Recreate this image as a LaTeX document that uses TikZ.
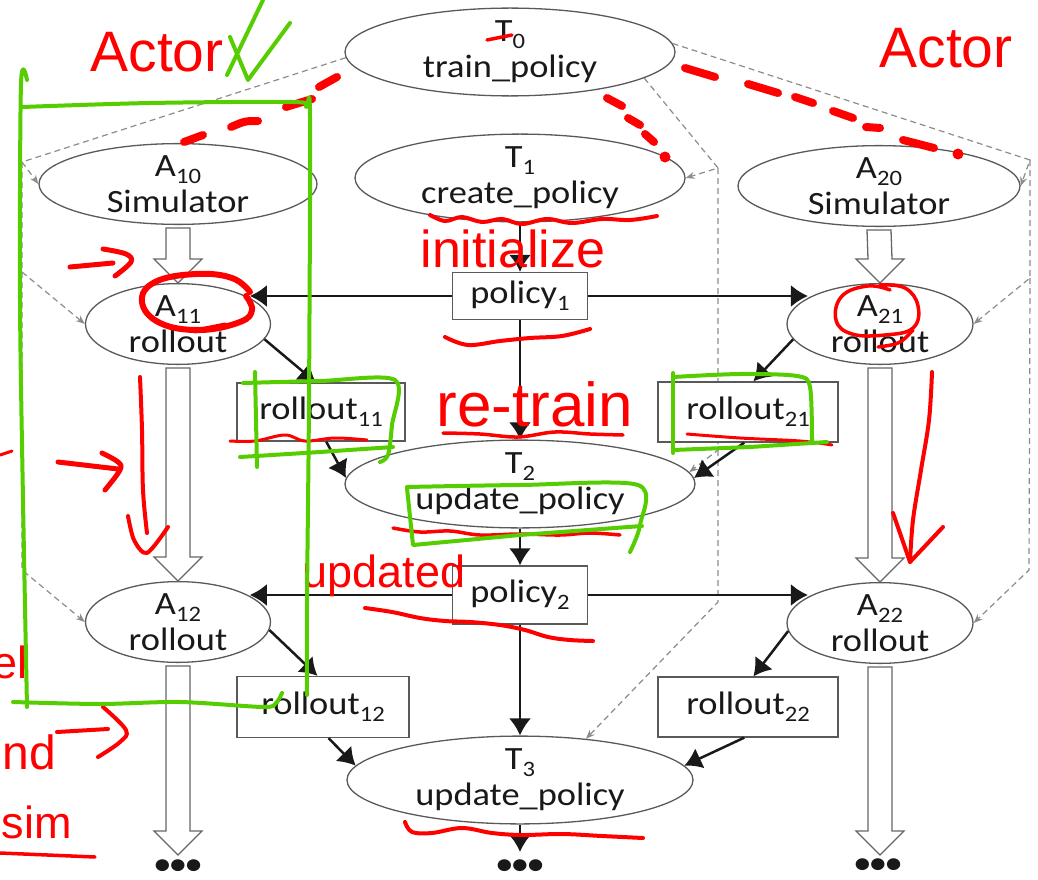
\documentclass[tikz,border=0pt]{standalone}
\usepackage{fontspec}
\setmainfont{Carlito}[FakeStretch=1.12]
\newfontfamily\handfont{Liberation Sans}
\usetikzlibrary{shapes.geometric,arrows.meta,calc,backgrounds}

% lowered index after a task or object name
\newcommand{\sbs}[1]{\raisebox{-7pt}{\fontsize{22}{22}\selectfont #1}}
% wide hollow arrow from one anchor straight down to another
\newcommand{\hollowarrow}[2]{%
  \draw[hollow] ($(#1)+(-12,3)$) -- ($(#2)+(-12,-24)$) -- ($(#2)+(-24,-24)$) -- (#2)
    -- ($(#2)+(24,-24)$) -- ($(#2)+(12,-24)$) -- ($(#1)+(12,3)$) -- cycle;}

\definecolor{inkgreen}{RGB}{85,205,0}
\definecolor{inkred}{RGB}{255,0,0}

\begin{document}
\begin{tikzpicture}[x=1pt,y=-1pt,
  every node/.style={font=\fontsize{32.5}{36}\selectfont, text=black!90},
  task/.style={ellipse, draw=black!65, line width=1.3pt, inner sep=0pt, align=center, fill=white},
  obj/.style={rectangle, draw=black!65, line width=1.3pt, inner sep=0pt, fill=white},
  flow/.style={line width=2.5pt, black!90, -{Latex[length=17pt,width=22pt]}},
  dep/.style={black!45, line width=1.2pt, dash pattern=on 6pt off 4pt, -{Stealth[length=9pt,width=7pt]}},
  hollow/.style={draw=black!60, line width=1.3pt, fill=white, line join=miter},
  dotrow/.style={anchor=north, inner sep=0pt, font=\bfseries\fontsize{28}{28}\selectfont},
  redtext/.style={text=inkred, inner sep=0pt, font=\handfont\fontsize{#1}{#1}\selectfont},
  redink/.style={draw=inkred, line cap=round, line join=round},
  greenink/.style={draw=inkgreen, line width=4pt, line cap=round, line join=round}
]
\useasboundingbox (0,0) rectangle (1038,880);

% ---------- tasks, actors and objects ----------
\node[task, minimum width=330pt, minimum height=85pt] (T0) at (510,52) {T\sbs{0}\\train\_policy};
\node[task, minimum width=330pt, minimum height=80pt] (T1) at (520,178) {T\sbs{1}\\create\_policy};
\node[task, minimum width=278pt, minimum height=72pt] (A10) at (178,184) {A\sbs{10}\\Simulator};
\node[task, minimum width=282pt, minimum height=72pt] (A20) at (879,186) {A\sbs{20}\\Simulator};
\node[obj, minimum width=135pt, minimum height=47pt] (P1) at (520,296) {policy\sbs{1}};
\node[task, minimum width=185pt, minimum height=75pt] (A11) at (178,324) {A\sbs{11}\\rollout};
\node[task, minimum width=186pt, minimum height=75pt] (A21) at (880,324) {A\sbs{21}\\rollout};
\node[obj, minimum width=168pt, minimum height=58pt] (R11) at (321,412) {rollout\sbs{11}};
\node[obj, minimum width=180pt, minimum height=60pt] (R21) at (748,412) {rollout\sbs{21}};
\node[task, minimum width=350pt, minimum height=86pt] (T2) at (520,484) {T\sbs{2}\\update\_policy};
\node[obj, minimum width=135pt, minimum height=58pt] (P2) at (520,595) {policy\sbs{2}};
\node[task, minimum width=185pt, minimum height=76pt] (A12) at (178,622) {A\sbs{12}\\rollout};
\node[task, minimum width=186pt, minimum height=74pt] (A22) at (880,623) {A\sbs{22}\\rollout};
\node[obj, minimum width=172pt, minimum height=61pt] (R12) at (323,707) {rollout\sbs{12}};
\node[obj, minimum width=180pt, minimum height=60pt] (R22) at (748,707) {rollout\sbs{22}};
\node[task, minimum width=346pt, minimum height=80pt] (T3) at (520,780) {T\sbs{3}\\update\_policy};

\coordinate (eL) at (178,855);
\coordinate (eR) at (880,855);
\node[dotrow] (dL) at (178,860) {\textbullet\textbullet\textbullet};
\node[dotrow] (dM) at (520,860) {\textbullet\textbullet\textbullet};
\node[dotrow] (dR) at (878,859) {\textbullet\textbullet\textbullet};

% ---------- data flow ----------
\draw[flow] (T1.south) -- (P1.north);
\draw[flow] (P1.west) -- (P1.west -| A11.20);
\draw[flow] (P1.east) -- (P1.east -| A21.160);
\draw[flow] (A11.-10) -- (R11.100);
\draw[flow] (R11.-80) -- (T2.178);
\draw[flow] (A21.190) -- (R21.80);
\draw[flow] (R21.-97) -- (T2.2);
\draw[flow] (P1.south) -- (T2.north);
\draw[flow] (T2.south) -- (P2.north);
\draw[flow] (P2.west) -- (P2.west -| A12.20);
\draw[flow] (P2.east) -- (P2.east -| A22.160);
\draw[flow] (A12.-5) -- (R12.100);
\draw[flow] (R12.-80) -- (T3.175);
\draw[flow] (A22.185) -- (R22.80);
\draw[flow] (R22.-97) -- (T3.5);
\draw[flow] (P2.south) -- (T3.north);
\draw[flow, shorten >=8pt] (T3.south) -- (dM.north);

% ---------- actor state carried forward ----------
\hollowarrow{A10.south}{A11.north}
\hollowarrow{A11.south}{A12.north}
\hollowarrow{A12.south}{eL}
\hollowarrow{A20.south}{A21.north}
\hollowarrow{A21.south}{A22.north}
\hollowarrow{A22.south}{eR}

% ---------- spawn dependencies ----------
\begin{scope}[on background layer]
  \coordinate (cL1) at (22,162);
  \coordinate (cL2) at (22,272);
  \coordinate (cL3) at (22,570);
  \coordinate (cR1) at (1030,160);
  \coordinate (cR2) at (1030,278);
  \coordinate (cR3) at (1029,570);
  \coordinate (cM1) at (718,168);
  \coordinate (cM2) at (718,450);
  \coordinate (cM3) at (718,602);
  \draw[dep] (T0.182) -- (cL1) -- (A10.west);
  \draw[dep] (cL1) -- (cL2) -- (A11.west);
  \draw[dep] (cL2) -- (cL3) -- (A12.west);
  \draw[dep] (T0.3) -- (cR1) -- (A20.east);
  \draw[dep] (cR1) -- (cR2) -- (A21.east);
  \draw[dep] (cR2) -- (cR3) -- (A22.east);
  \draw[dep] (T0.-11) -- (cM1) -- (T1.east);
  \draw[dep] (cM1) -- (cM2) -- (T2.4);
  \draw[dep] (cM2) -- (cM3) -- (T3.32);
\end{scope}

% ---------- red notes ----------
\node[redtext=57] (actL) at (157,52) {Actor};
\node[redtext=57] (actR) at (946,48) {Actor};
\node[redtext=52] (init) at (513,249) {initialize};
\node[redtext=62] (retr) at (535,404) {re-train};
\node[redtext=45] (upd) at (384,576) {updated};
\node[redtext=45, anchor=east] (el) at (28,662) {el};
\node[redtext=48, anchor=east] (nd) at (56,752) {nd};
\node[redtext=45, anchor=east] (sim) at (72,822) {sim};

% dashed strokes from the top task towards the actors
\draw[redink, line width=8pt] (184,142) -- (203,135) (231,127) .. controls (245,121) .. (258,121)
  (286,107) -- (312,99) (319,87) -- (337,77);
\draw[redink, line width=8pt] (685,68) -- (715,77) (748,84) -- (778,93) (795,97) -- (813,103)
  (833,111) -- (853,118) (866,127) -- (880,128) (903,140) -- (934,148);
\fill[inkred] (958,154) circle (5.5);
\draw[redink, line width=8pt] (607,98) -- (622,106) (628,118) -- (640,125) (645,134) -- (654,142);
\fill[inkred] (665,157) circle (5.5);
\draw[redink, line width=3.5pt] (487,40) -- (512,35);

% underlines
\draw[redink, line width=4pt] plot[smooth, tension=0.6] coordinates
  {(430,215) (445,221) (462,217) (482,222) (502,219) (522,224) (547,219) (572,223) (602,219) (630,220) (657,216)};
\draw[redink, line width=4pt] plot[smooth, tension=0.6] coordinates
  {(445,337) (468,345) (500,341) (530,338) (562,336) (590,329)};
\draw[redink, line width=3pt] plot[smooth, tension=0.6] coordinates
  {(230,441) (255,441) (285,435) (305,441) (335,438) (367,440)};
\draw[redink, line width=3.5pt] plot[smooth, tension=0.6] coordinates
  {(443,433) (480,434) (518,437) (555,432) (590,434) (623,435)};
\draw[redink, line width=3.5pt] plot[smooth, tension=0.6] coordinates
  {(393,528) (420,532) (450,531) (480,535) (520,534) (560,535) (590,533) (620,535)};
\draw[redink, line width=4pt] plot[smooth, tension=0.6] coordinates
  {(365,608) (392,612) (420,618) (445,621) (470,622) (500,625) (525,630) (548,637) (570,640) (593,641)};
\draw[redink, line width=4pt] plot[smooth, tension=0.6] coordinates
  {(405,822) (412,832) (432,833) (462,828) (492,833) (522,835) (562,834) (602,836) (643,838)};
\draw[redink, line width=3pt] plot[smooth, tension=0.6] coordinates
  {(687,434) (740,438) (800,441) (832,445)};
\draw[redink, line width=3.5pt] (0,853) -- (95,857);

% rings around actor labels
\draw[redink, line width=6pt] plot[smooth, tension=0.7] coordinates
  {(250,292) (232,278) (196,274) (155,282) (142,302) (160,323) (200,330) (240,322) (252,310) (246,296)};
\draw[redink, line width=5pt] (225,325) -- (195,331);
\draw[redink, line width=3.5pt] plot[smooth, tension=0.7] coordinates
  {(890,290) (868,286) (842,296) (836,320) (852,334) (885,335) (913,328) (918,306) (905,288) (880,285)};
\draw[redink, line width=3.5pt] (913,330) .. controls (900,344) .. (878,347);

% arrows in the margins
\draw[redink, line width=5pt] (70,267) -- (113,263);
\draw[redink, line width=5pt] plot[smooth, tension=0.6] coordinates {(103,249) (126,254) (131,262) (115,276)};
\draw[redink, line width=5pt] (58,462) -- (118,469);
\draw[redink, line width=5pt] plot[smooth, tension=0.6] coordinates {(102,453) (118,462) (120,470) (105,490)};
\draw[redink, line width=4pt] plot[smooth, tension=0.6] coordinates {(140,377) (142,430) (143,490) (147,533)};
\draw[redink, line width=4pt] plot[smooth, tension=0.5] coordinates {(128,516) (134,540) (147,553) (168,527)};
\draw[redink, line width=4pt] plot[smooth, tension=0.6] coordinates {(932,372) (929,420) (921,470) (913,520) (910,562)};
\draw[redink, line width=4pt] (893,513) -- (910,562) -- (943,527);
\draw[redink, line width=4pt] (57,732) -- (108,729);
\draw[redink, line width=4pt] plot[smooth, tension=0.6] coordinates {(103,707) (126,730) (120,742) (98,757)};
\draw[redink, line width=3pt] (0,455) -- (12,451);

% ---------- green notes ----------
\draw[greenink] (230,37) -- (248,80) -- (290,23);
\draw[greenink] (227,75) -- (263,0);
% actor frame
\draw[greenink] plot[smooth, tension=0.5] coordinates {(27,80) (21,84) (20,300) (23,500) (27,707)};
\draw[greenink] plot[smooth, tension=0.5] coordinates {(22,107) (150,103) (293,102) (306,107) (310,118) (309,400) (307,600) (307,695)};
\draw[greenink] plot[smooth, tension=0.5] coordinates {(13,702) (100,704) (180,702) (263,707) (276,703) (282,693)};
% boxes around results
\draw[greenink] (255,372) -- (257,467);
\draw[greenink] plot[smooth, tension=0.5] coordinates {(243,383) (320,381) (395,380) (392,425) (388,455) (380,462)};
\draw[greenink] (240,457) -- (320,452) -- (393,447);
\draw[greenink] (673,373) -- (673,453);
\draw[greenink] plot[smooth, tension=0.5] coordinates {(673,377) (740,374) (797,376) (810,387) (812,443)};
\draw[greenink] (673,450) -- (750,447) -- (827,442);
\draw[greenink] (407,488) -- (413,545) -- (520,535) -- (642,526);
\draw[greenink] plot[smooth, tension=0.5] coordinates {(407,487) (520,485) (638,485) (640,525) (630,552)};
\end{tikzpicture}
\end{document}
